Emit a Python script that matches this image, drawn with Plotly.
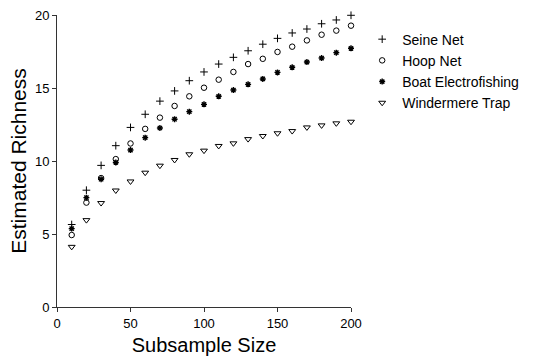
import plotly.graph_objects as go

subsample = [10, 20, 30, 40, 50, 60, 70, 80, 90, 100,
             110, 120, 130, 140, 150, 160, 170, 180, 190, 200]

seine_net = [5.65, 8.0, 9.7, 11.05, 12.3, 13.2, 14.1, 14.8, 15.5, 16.1,
             16.64, 17.1, 17.55, 18.0, 18.4, 18.77, 19.04, 19.4, 19.66, 19.98]
hoop_net = [4.93, 7.15, 8.83, 10.13, 11.2, 12.2, 12.97, 13.77, 14.43, 15.02,
            15.57, 16.1, 16.64, 17.0, 17.47, 17.83, 18.26, 18.65, 18.93, 19.27]
boat_electrofishing = [5.37, 7.49, 8.75, 9.9, 10.75, 11.6, 12.26, 12.86, 13.38, 13.88,
                       14.43, 14.86, 15.25, 15.62, 16.07, 16.42, 16.78, 17.05, 17.42, 17.72]
windermere_trap = [4.12, 5.95, 7.12, 7.98, 8.6, 9.2, 9.68, 10.07, 10.46, 10.71,
                   11.03, 11.21, 11.5, 11.71, 11.9, 12.05, 12.3, 12.44, 12.58, 12.69]

series_names = ["Seine Net", "Hoop Net", "Boat Electrofishing", "Windermere Trap"]
x_ticks = [0, 50, 100, 150, 200]
y_ticks = [0, 5, 10, 15, 20]

FONT = "Liberation Sans, Arial, sans-serif"

styles = [
    dict(symbol="cross-thin-open", size=5.5, line=dict(width=1, color="black"), color="black"),
    dict(symbol="circle-open", size=5.5, line=dict(width=1, color="black"), color="black"),
    dict(symbol="asterisk-open", size=5, line=dict(width=1.4, color="black"), color="black"),
    dict(symbol="triangle-down-open", size=6, line=dict(width=1, color="black"), color="black"),
]

fig = go.Figure()
for name, ys, st in zip(series_names,
                        [seine_net, hoop_net, boat_electrofishing, windermere_trap],
                        styles):
    fig.add_trace(go.Scatter(x=subsample, y=ys, mode="markers", name=name,
                             marker=st, cliponaxis=False))

axis_common = dict(
    showline=True, linecolor="#333", linewidth=1,
    ticks="outside", ticklen=4, tickcolor="#333", tickwidth=1,
    showgrid=False, zeroline=False, automargin=False,
    ticklabeloverflow="allow",
    tickfont=dict(family=FONT, size=13, color="black"),
)

fig.update_layout(
    width=545, height=359,
    margin=dict(l=57, r=194, t=15, b=52),
    paper_bgcolor="white", plot_bgcolor="white",
    font=dict(family=FONT, color="black"),
    xaxis=dict(range=[0, 200], tickvals=x_ticks,
               title=dict(text="Subsample Size", font=dict(family=FONT, size=20), standoff=8),
               **axis_common),
    yaxis=dict(range=[0, 20], tickvals=y_ticks,
               title=dict(text="Estimated Richness", font=dict(family=FONT, size=21), standoff=2),
               **axis_common),
    legend=dict(x=1.038, y=0.808, xanchor="left", yanchor="middle",
                font=dict(family=FONT, size=14, color="black"),
                bgcolor="rgba(0,0,0,0)", borderwidth=0,
                itemwidth=30),
    showlegend=True,
)

# remove the browser's default 8px body margin so the figure fills the window exactly
fig.write_html("out.html",
               config={"displayModeBar": False},
               post_script="document.body.style.margin='0';document.body.style.overflow='hidden';")
